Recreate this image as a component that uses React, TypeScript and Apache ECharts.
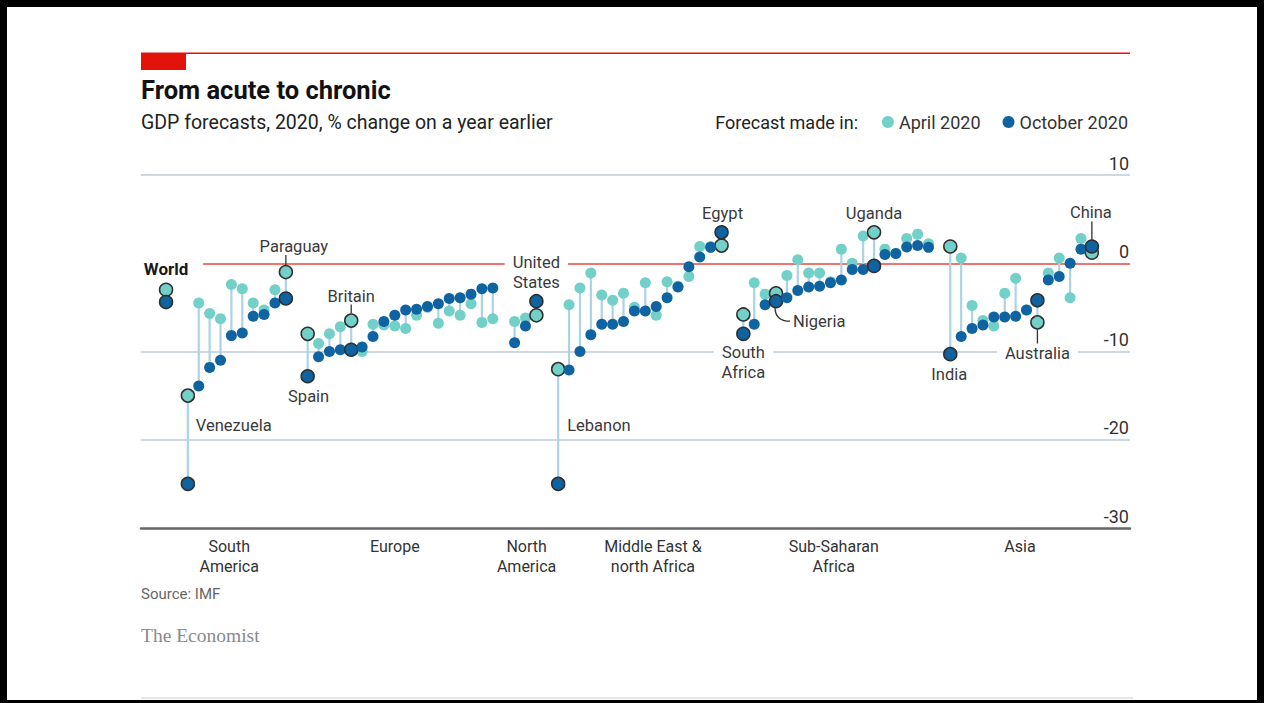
import React, { useEffect, useRef } from "react";
import * as echarts from "echarts";

// ---------- data ----------
// "" marks an empty slot between regions
const categories = [
  "World", "",
  "Venezuela", "Peru", "Argentina", "Ecuador", "Colombia", "Bolivia", "Chile", "Brazil", "Uruguay", "Paraguay", "",
  "Spain", "Italy", "Portugal", "France", "Britain", "Greece", "Belgium", "EU-8", "EU-9", "EU-10", "EU-11", "EU-12", "EU-13", "EU-14", "EU-15", "EU-16", "EU-17", "EU-18", "",
  "Mexico", "Canada", "United States", "",
  "Lebanon", "Iraq", "Oman", "Kuwait", "ME-5", "ME-6", "ME-7", "ME-8", "ME-9", "ME-10", "ME-11", "ME-12", "ME-13", "ME-14", "ME-15", "Egypt", "",
  "South Africa", "SSA-2", "SSA-3", "Nigeria", "SSA-5", "SSA-6", "SSA-7", "SSA-8", "SSA-9", "SSA-10", "SSA-11", "SSA-12", "Uganda", "SSA-14", "SSA-15", "SSA-16", "SSA-17", "SSA-18", "",
  "India", "Philippines", "AS-3", "AS-4", "AS-5", "AS-6", "AS-7", "AS-8", "Australia", "AS-10", "AS-11", "AS-12", "AS-13", "China",
];

const april2020: (number | null)[] = [
  -3.0, null,
  -15.0, -4.5, -5.7, -6.3, -2.4, -2.9, -4.5, -5.3, -3.0, -1.0, null,
  -8.0, -9.1, -8.0, -7.2, -6.5, -10.0, -6.9, -7.0, -7.1, -7.4, -5.9, -5.0, -6.8, -5.4, -5.9, -4.6, -6.7, -6.3, null,
  -6.6, -6.2, -5.9, null,
  -12.0, -4.7, -2.8, -1.1, -3.6, -4.2, -3.4, -5.0, -2.2, -5.9, -2.1, -2.6, -1.5, 1.9, 1.9, 2.0, null,
  -5.8, -2.2, -3.5, -3.4, -1.4, 0.4, -1.1, -1.1, -2.1, 1.6, 0.0, 3.1, 3.5, 1.6, 1.1, 2.8, 3.3, 2.2, null,
  1.9, 0.6, -4.8, -6.5, -7.1, -3.4, -1.7, -5.3, -6.7, -1.1, 0.6, -3.9, 2.8, 1.2,
];

const october2020: (number | null)[] = [
  -4.4, null,
  -25.0, -13.9, -11.8, -11.0, -8.2, -7.9, -6.0, -5.8, -4.5, -4.0, null,
  -12.8, -10.6, -10.0, -9.8, -9.8, -9.5, -8.3, -6.6, -5.9, -5.3, -5.2, -4.9, -4.6, -4.0, -3.9, -3.5, -2.9, -2.8, null,
  -9.0, -7.1, -4.3, null,
  -25.0, -12.1, -10.0, -8.1, -6.9, -6.9, -6.6, -5.4, -5.4, -4.9, -3.9, -2.7, -0.4, 0.7, 1.8, 3.5, null,
  -8.0, -6.9, -4.7, -4.3, -3.9, -3.1, -2.7, -2.6, -2.2, -1.9, -0.7, -0.7, -0.3, 1.0, 1.1, 1.85, 2.0, 1.8, null,
  -10.3, -8.3, -7.4, -7.0, -6.1, -6.1, -6.0, -5.3, -4.2, -1.9, -1.5, 0.0, 1.6, 1.9,
];

const regionNames = ["South\nAmerica", "Europe", "North\nAmerica", "Middle East &\nnorth Africa", "Sub-Saharan\nAfrica", "Asia"];
const regionLabelAt = [5.8, 21.0, 33.1, 44.7, 61.3, 78.4];

const gridLineValues = [10, -10, -20];
const highlighted = [
  "World", "Venezuela", "Paraguay", "Spain", "Britain", "United States", "Lebanon",
  "Egypt", "South Africa", "Nigeria", "Uganda", "India", "Australia", "China",
];

// ---------- styling / layout ----------
const FONT = "Roboto, 'Noto Sans', sans-serif";
const APRIL_COLOR = "#72d0c8";
const OCT_COLOR = "#0f63a0";
const STEM_COLOR = "#acd2e6";
const GRID_COLOR = "#bccbd8";
const ZERO_COLOR = "#f07470";
const TEXT_COLOR = "#333333";

type Annot = {
  name: string; on: "apr" | "oct"; text: string; dx: number; dy: number;
  align: "left" | "center" | "right"; bold?: boolean; bg?: boolean;
  leader?: [number, number, number, number]; curve?: boolean;
};

const annotationLayout: Annot[] = [
  { name: "World", on: "apr", text: "World", dx: 0, dy: -21, align: "center", bold: true },
  { name: "Venezuela", on: "apr", text: "Venezuela", dx: 8, dy: 30, align: "left" },
  { name: "Paraguay", on: "apr", text: "Paraguay", dx: 8, dy: -26, align: "center", leader: [0, -7, 0, -17] },
  { name: "Spain", on: "oct", text: "Spain", dx: 1, dy: 20, align: "center" },
  { name: "Britain", on: "apr", text: "Britain", dx: 0, dy: -24, align: "center", leader: [0, -7, 0, -16] },
  { name: "United States", on: "oct", text: "United\nStates", dx: 0, dy: -29, align: "center", bg: true },
  { name: "Lebanon", on: "apr", text: "Lebanon", dx: 9, dy: 56, align: "left" },
  { name: "Egypt", on: "oct", text: "Egypt", dx: 1, dy: -19, align: "center" },
  { name: "South Africa", on: "oct", text: "South\nAfrica", dx: 0, dy: 29, align: "center", bg: true },
  { name: "Nigeria", on: "oct", text: "Nigeria", dx: 17, dy: 20, align: "left", curve: true },
  { name: "Uganda", on: "apr", text: "Uganda", dx: 0, dy: -19, align: "center" },
  { name: "India", on: "oct", text: "India", dx: -1, dy: 20, align: "center" },
  { name: "Australia", on: "apr", text: "Australia", dx: 0, dy: 31, align: "center", bg: true, leader: [0, 7, 0, 23] },
  { name: "China", on: "oct", text: "China", dx: -1, dy: -34, align: "center", leader: [0, -6, 0, -25] },
];

export default function App() {
  const ref = useRef<HTMLDivElement>(null);

  useEffect(() => {
    if (!ref.current) return;
    const chart = echarts.init(ref.current, undefined, { renderer: "svg" });

    const idx = categories.map((_, i) => i).filter((i) => april2020[i] != null);

    const dot = (i: number, v: number, color: string) => {
      const hi = highlighted.includes(categories[i]);
      return {
        value: [i, v],
        name: categories[i],
        symbolSize: hi ? 13 : 11,
        itemStyle: hi
          ? { color, opacity: 1, borderColor: "#2f2f2f", borderWidth: 1.5 }
          : { color, opacity: 1, borderWidth: 0 },
      };
    };

    const annData = annotationLayout.map((a) => {
      const i = categories.indexOf(a.name);
      const v = a.on === "apr" ? april2020[i] : october2020[i];
      return { value: [i, v as number] };
    });

    const option: any = {
      animation: false,
      backgroundColor: "#ffffff",
      textStyle: { fontFamily: FONT },
      grid: { left: 141, right: 134, top: 175, bottom: 175, containLabel: false },
      legend: {
        data: ["April 2020", "October 2020"],
        right: 131,
        top: 108,
        icon: "circle",
        itemWidth: 12,
        itemHeight: 12,
        itemGap: 22,
        textStyle: { fontFamily: FONT, fontSize: 18, color: TEXT_COLOR },
        selectedMode: false,
      },
      xAxis: {
        type: "value",
        min: -2.3,
        max: 88.5,
        splitLine: { show: false },
        axisTick: { show: false },
        axisLine: { show: true, onZero: false, lineStyle: { color: "#666666", width: 2.5 } },
        axisLabel: {
          customValues: regionLabelAt,
          formatter: (v: number) => {
            const k = regionLabelAt.findIndex((r) => Math.abs(r - v) < 1e-6);
            return k >= 0 ? regionNames[k] : "";
          },
          fontFamily: FONT,
          fontSize: 16,
          lineHeight: 20,
          color: TEXT_COLOR,
          margin: 8,
          align: "center",
          verticalAlign: "top",
          hideOverlap: false,
        },
      },
      yAxis: {
        type: "value",
        min: -30,
        max: 10,
        interval: 10,
        position: "right",
        splitLine: { show: false },
        axisTick: { show: false },
        axisLine: { show: false },
        axisLabel: {
          inside: true,
          align: "right",
          verticalAlign: "bottom",
          margin: 1,
          padding: [0, 0, 3, 0],
          fontFamily: FONT,
          fontSize: 18,
          color: TEXT_COLOR,
        },
      },
      graphic: [
        // frame
        { type: "rect", shape: { x: 0, y: 0, width: 1264, height: 7 }, style: { fill: "#000" }, z: 100 },
        { type: "rect", shape: { x: 0, y: 0, width: 7, height: 703 }, style: { fill: "#000" }, z: 100 },
        { type: "rect", shape: { x: 1257, y: 0, width: 7, height: 703 }, style: { fill: "#000" }, z: 100 },
        { type: "rect", shape: { x: 0, y: 700, width: 1264, height: 3 }, style: { fill: "#000" }, z: 100 },
        // top red rule and tag
        { type: "rect", shape: { x: 141, y: 52.5, width: 989, height: 1.5 }, style: { fill: "#e3120b" } },
        { type: "rect", shape: { x: 141, y: 53, width: 45, height: 17 }, style: { fill: "#e3120b" } },
        {
          type: "text", x: 141, y: 90,
          style: { text: "From acute to chronic", font: `bold 25.5px ${FONT}`, fill: "#111", textVerticalAlign: "middle", verticalAlign: "middle" },
        },
        {
          type: "text", x: 141, y: 122,
          style: { text: "GDP forecasts, 2020, % change on a year earlier", font: `19.5px ${FONT}`, fill: "#222", textVerticalAlign: "middle", verticalAlign: "middle" },
        },
        {
          type: "text", x: 858, y: 122,
          style: { text: "Forecast made in:", font: `18px ${FONT}`, fill: "#222", textAlign: "right", align: "right", textVerticalAlign: "middle", verticalAlign: "middle" },
        },
        {
          type: "text", x: 141, y: 594,
          style: { text: "Source: IMF", font: `15px ${FONT}`, fill: "#666", textVerticalAlign: "middle", verticalAlign: "middle" },
        },
        {
          type: "text", x: 141, y: 635,
          style: { text: "The Economist", font: `19.5px 'Liberation Serif', 'DejaVu Serif', serif`, fill: "#8a8a8a", textVerticalAlign: "middle", verticalAlign: "middle" },
        },
        { type: "rect", shape: { x: 141, y: 697.5, width: 992, height: 1 }, style: { fill: "#cfcfcf" } },
      ],
      series: [
        {
          name: "stems",
          type: "custom",
          silent: true,
          z: 1,
          encode: { x: 0, y: [1, 2] },
          data: idx.map((i) => [i, april2020[i] as number, october2020[i] as number]),
          renderItem: (params: any, api: any) => {
            const x = api.value(0);
            const a = api.coord([x, api.value(1)]);
            const b = api.coord([x, api.value(2)]);
            return {
              type: "line",
              shape: { x1: a[0], y1: a[1], x2: b[0], y2: b[1] },
              style: { stroke: STEM_COLOR, lineWidth: 2.2 },
            };
          },
          markLine: {
            silent: true,
            symbol: ["none", "none"],
            label: { show: false },
            z: 0,
            data: [
              ...gridLineValues.map((v) => ({ yAxis: v, lineStyle: { color: GRID_COLOR, width: 1.5, type: "solid" } })),
              [
                { coord: [3.4, 0], lineStyle: { color: ZERO_COLOR, width: 1.8, type: "solid" } },
                { coord: [88.5, 0] },
              ],
            ],
          },
        },
        {
          name: "annotations",
          type: "custom",
          silent: true,
          z: 3,
          encode: { x: 0, y: 1 },
          data: annData,
          renderItem: (params: any, api: any) => {
            const a = annotationLayout[params.dataIndex];
            const p = api.coord([api.value(0), api.value(1)]);
            const children: any[] = [];
            if (a.leader) {
              children.push({
                type: "line",
                shape: { x1: p[0] + a.leader[0], y1: p[1] + a.leader[1], x2: p[0] + a.leader[2], y2: p[1] + a.leader[3] },
                style: { stroke: "#333", lineWidth: 1.3 },
              });
            }
            if (a.curve) {
              children.push({
                type: "bezierCurve",
                shape: { x1: p[0] - 1, y1: p[1] + 6, cpx1: p[0] - 1, cpy1: p[1] + 20, x2: p[0] + 14, y2: p[1] + 20 },
                style: { stroke: "#333", lineWidth: 1.3, fill: "none" },
              });
            }
            children.push({
              type: "text",
              x: p[0] + a.dx,
              y: p[1] + a.dy,
              z2: 5,
              style: {
                text: a.text,
                font: `${a.bold ? "bold " : ""}${a.bold ? 17 : 16.5}px ${FONT}`,
                fill: a.bold ? "#1a1a1a" : "#3a3a3a",
                textAlign: a.align,
                align: a.align,
                textVerticalAlign: "middle",
                verticalAlign: "middle",
                lineHeight: 20,
                backgroundColor: a.bg ? "#ffffff" : undefined,
                padding: a.bg ? [0, 8] : 0,
              },
            });
            return { type: "group", children };
          },
        },
        {
          name: "April 2020",
          type: "scatter",
          z: 4,
          symbol: "circle",
          itemStyle: { color: APRIL_COLOR, opacity: 1 },
          data: idx.map((i) => dot(i, april2020[i] as number, APRIL_COLOR)),
        },
        {
          name: "October 2020",
          type: "scatter",
          z: 5,
          symbol: "circle",
          itemStyle: { color: OCT_COLOR, opacity: 1 },
          data: idx.map((i) => dot(i, october2020[i] as number, OCT_COLOR)),
        },
      ],
    };

    chart.setOption(option);
    return () => chart.dispose();
  }, []);

  return (
    <div
      ref={ref}
      style={{ position: "fixed", left: 0, top: 0, width: 1264, height: 703, background: "#fff" }}
    />
  );
}
